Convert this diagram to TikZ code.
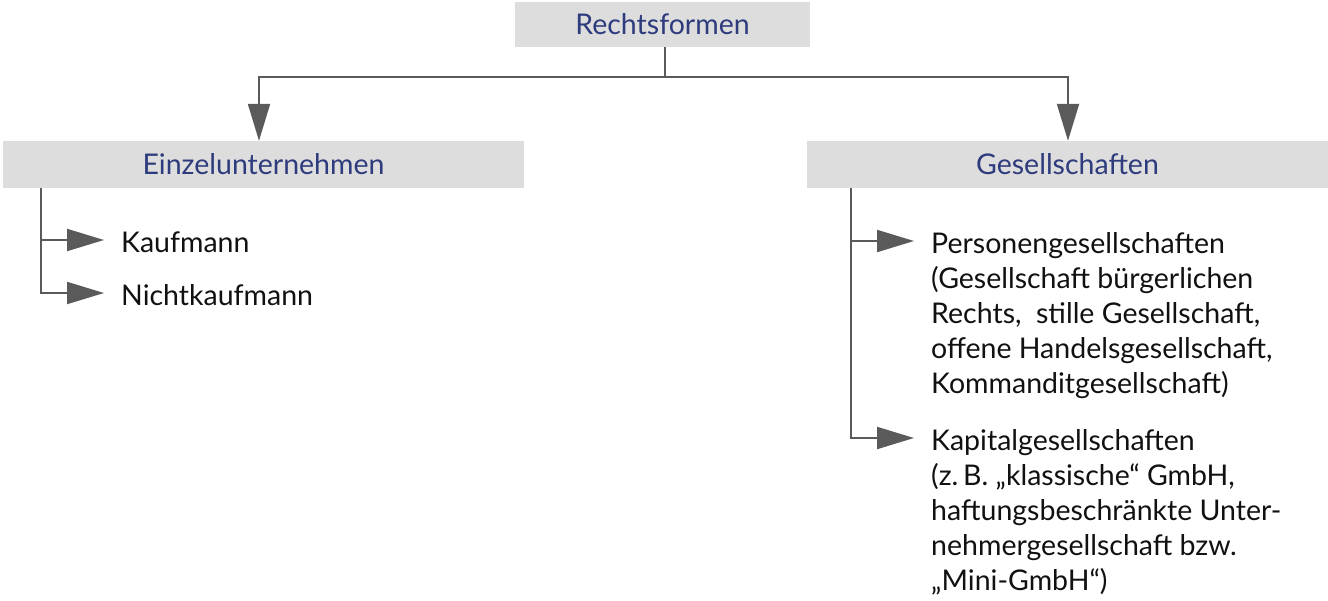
\documentclass[tikz,border=0pt]{standalone}
\usepackage{fontspec}
\setmainfont{Lato}
\usetikzlibrary{arrows.meta,calc}
\definecolor{boxgray}{HTML}{DDDDDD}
\definecolor{titleblue}{HTML}{2E3B7C}
\definecolor{arrgray}{HTML}{5A5A5A}
\definecolor{bodyblack}{HTML}{111111}
\tikzset{
  titlebox/.style={fill=boxgray, draw=none, text=titleblue, inner sep=0pt, font=\fontsize{28.5}{32}\selectfont},
  itemtext/.style={anchor=base west, inner sep=0pt, text=bodyblack, font=\fontsize{28.5}{35}\selectfont},
  conn/.style={draw=arrgray, line width=2pt},
  arr/.style={conn, -{Triangle[length=37pt,width=22pt]}}
}
\begin{document}
\begin{tikzpicture}[x=1pt,y=-1pt]
\useasboundingbox (0,0) rectangle (1328,600);
% boxes
\node[titlebox, minimum width=295pt, minimum height=45pt] (R) at (662.5,24.5) {Rechtsformen};
\node[titlebox, minimum width=521pt, minimum height=47pt] (E) at (263.5,164.5) {Einzelunternehmen};
\node[titlebox, minimum width=521pt, minimum height=47pt] (G) at (1067.5,164.5) {Gesellschaften};
% items
\node[itemtext] (K) at (121,252) {Kaufmann};
\node[itemtext] (N) at (121,305) {Nichtkaufmann};
\node[itemtext] (P) at (931,253) {\vtop{\baselineskip=35pt
  \hbox{Personengesellschaften}
  \hbox{(Gesellschaft bürgerlichen}
  \hbox{Rechts,\ \ stille Gesellschaft,}
  \hbox{offene Handelsgesellschaft,}
  \hbox{Kommanditgesellschaft)}}};
\node[itemtext] (C) at (931,450) {\vtop{\baselineskip=35pt
  \hbox{Kapitalgesellschaften}
  \hbox{(z.\,B. „klassische“ GmbH,}
  \hbox{haftungsbeschränkte Unter-}
  \hbox{nehmergesellschaft bzw.}
  \hbox{„Mini-GmbH“)}}};
% top connectors
\coordinate (split) at (665,77);
\draw[conn] (R.south -| split) -- (split);
\draw[arr] (split) -| (E.north -| 259,0);
\draw[arr] (split) -| (G.north -| 1068,0);
% left tree
\coordinate (Ktip) at ([xshift=-17pt,yshift=12pt]K.base west);
\coordinate (Ntip) at ([xshift=-17pt,yshift=12pt]N.base west);
\draw[arr] (E.south -| 41,0) |- (Ntip);
\draw[arr] (Ktip -| 41,0) -- (Ktip);
% right tree
\coordinate (Ptip) at ([xshift=-17pt,yshift=12pt]P.base west);
\coordinate (Ctip) at ([xshift=-17pt,yshift=12pt]C.base west);
\draw[arr] (G.south -| 851,0) |- (Ctip);
\draw[arr] (Ptip -| 851,0) -- (Ptip);
\end{tikzpicture}
\end{document}
